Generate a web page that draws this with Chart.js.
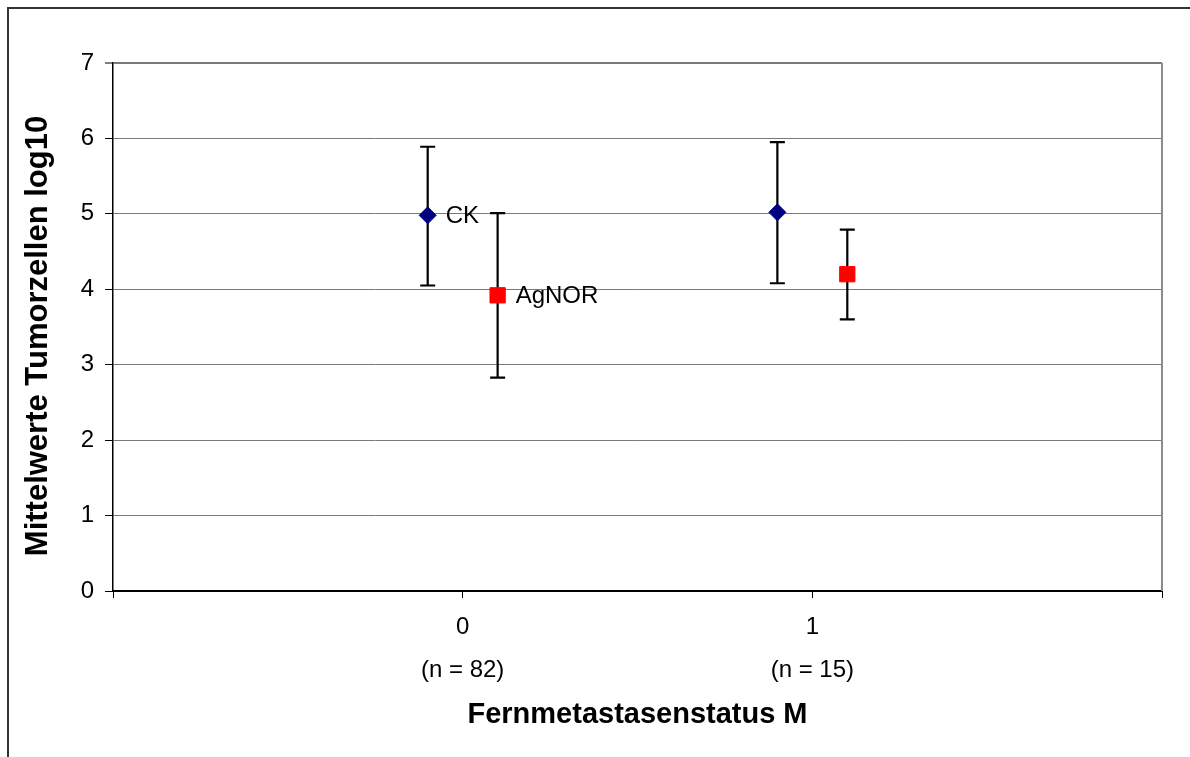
<!DOCTYPE html>
<html>
<head>
<meta charset="utf-8">
<script src="https://cdn.jsdelivr.net/npm/chart.js@4"></script>
<style>
  html, body { margin: 0; padding: 0; background: #fff; overflow: hidden; }
  canvas { display: block; }
</style>
</head>
<body>
<canvas id="chart" width="1190" height="757"></canvas>
<script>
// ---------- data ---------- //
const groupLabels = ["0", "1"];
const groupCounts = ["(n = 82)", "(n = 15)"];
const groupPos = [0, 1];

// CK series (diamonds, slightly left of each group)
const ckX = [-0.1, 0.9];
const ckMean = [4.98, 5.02];
const ckLow = [4.05, 4.08];
const ckHigh = [5.89, 5.95];

// AgNOR series (squares, slightly right of each group)
const agX = [0.1, 1.1];
const agMean = [3.92, 4.20];
const agLow = [2.83, 3.60];
const agHigh = [5.01, 4.79];

const yTicks = [0, 1, 2, 3, 4, 5, 6, 7];
const yTitle = "Mittelwerte Tumorzellen log10";
const xTitle = "Fernmetastasenstatus M";

const FONT = "'Liberation Sans', Arial, sans-serif";

// ---------- plugins ---------- //
// outer frame (only top and left edges are visible in the picture)
const framePlugin = {
  id: "frame",
  beforeDraw(chart) {
    const ctx = chart.ctx;
    ctx.save();
    ctx.fillStyle = "#fff";
    ctx.fillRect(0, 0, chart.width, chart.height);
    ctx.strokeStyle = "#333";
    ctx.lineWidth = 2;
    ctx.beginPath();
    ctx.moveTo(8, chart.height);
    ctx.lineTo(8, 8);
    ctx.lineTo(chart.width, 8);
    ctx.stroke();
    ctx.restore();
  },
  afterDraw(chart) {
    const { ctx, chartArea } = chart;
    ctx.save();
    // grey border on the right of the plot area
    ctx.strokeStyle = "#8c8c8c";
    ctx.lineWidth = 2;
    ctx.beginPath();
    ctx.moveTo(chartArea.right, chartArea.top);
    ctx.lineTo(chartArea.right, chartArea.bottom);
    ctx.stroke();

    // y axis title, Excel centres it a bit lower than the plot area
    ctx.translate(38, 336);
    ctx.rotate(-Math.PI / 2);
    ctx.fillStyle = "#000";
    ctx.font = "bold 31px " + FONT;
    ctx.textAlign = "center";
    ctx.textBaseline = "middle";
    ctx.fillText(yTitle, 0, 0);
    ctx.restore();
  }
};

// error bars from the low / high arrays
const errorBarPlugin = {
  id: "errorBars",
  beforeDatasetsDraw(chart) {
    const { ctx, scales } = chart;
    const sets = [
      { xs: ckX, lo: ckLow, hi: ckHigh },
      { xs: agX, lo: agLow, hi: agHigh }
    ];
    ctx.save();
    ctx.strokeStyle = "#000";
    ctx.lineWidth = 2.2;
    sets.forEach(s => {
      s.xs.forEach((xv, i) => {
        const px = scales.x.getPixelForValue(xv);
        const pLo = scales.y.getPixelForValue(s.lo[i]);
        const pHi = scales.y.getPixelForValue(s.hi[i]);
        ctx.beginPath();
        ctx.moveTo(px, pLo);
        ctx.lineTo(px, pHi);
        ctx.moveTo(px - 7.5, pLo);
        ctx.lineTo(px + 7.5, pLo);
        ctx.moveTo(px - 7.5, pHi);
        ctx.lineTo(px + 7.5, pHi);
        ctx.stroke();
      });
    });
    ctx.restore();
  },
  afterDatasetsDraw(chart) {
    // series name next to the first point of each series
    const ctx = chart.ctx;
    ctx.save();
    ctx.fillStyle = "#000";
    ctx.font = "24px " + FONT;
    ctx.textAlign = "left";
    ctx.textBaseline = "middle";
    chart.data.datasets.forEach((ds, di) => {
      const pt = chart.getDatasetMeta(di).data[0];
      ctx.fillText(ds.label, pt.x + 18, pt.y + 1);
    });
    ctx.restore();
  }
};

// ---------- chart ---------- //
const ctx = document.getElementById("chart").getContext("2d");

new Chart(ctx, {
  type: "scatter",
  data: {
    datasets: [
      {
        label: "CK",
        data: ckX.map((x, i) => ({ x: x, y: ckMean[i] })),
        pointStyle: "rectRot",
        pointRadius: 8.5,
        backgroundColor: "#000080",
        borderColor: "#000080",
        borderWidth: 1
      },
      {
        label: "AgNOR",
        data: agX.map((x, i) => ({ x: x, y: agMean[i] })),
        pointStyle: "rect",
        pointRadius: 10.8,
        backgroundColor: "#ff0000",
        borderColor: "#ff0000",
        borderWidth: 1
      }
    ]
  },
  options: {
    responsive: false,
    animation: false,
    devicePixelRatio: 1,
    layout: { padding: { left: 0, top: 63, right: 28, bottom: 0 } },
    plugins: {
      legend: { display: false },
      tooltip: { enabled: false }
    },
    scales: {
      x: {
        type: "linear",
        min: -1,
        max: 2,
        afterFit: scale => { scale.height = 166; },
        afterBuildTicks: scale => {
          scale.ticks = [-1, 0, 1, 2].map(v => ({ value: v }));
        },
        border: { display: true, color: "#000", width: 2 },
        grid: {
          drawOnChartArea: false,
          drawTicks: true,
          tickLength: 7,
          tickColor: "#000",
          tickWidth: 1
        },
        ticks: {
          autoSkip: false,
          maxRotation: 0,
          padding: 8,
          color: "#000",
          font: { family: FONT, size: 24, lineHeight: 1.8 },
          callback: value => {
            const i = groupPos.indexOf(value);
            return i >= 0 ? [groupLabels[i], groupCounts[i]] : "";
          }
        },
        title: {
          display: true,
          text: xTitle,
          color: "#000",
          font: { family: FONT, size: 29, weight: "bold", lineHeight: 1.2 },
          padding: { top: 0, bottom: 25 }
        }
      },
      y: {
        min: 0,
        max: 7,
        afterFit: scale => { scale.width = 113; },
        afterBuildTicks: scale => {
          scale.ticks = yTicks.map(v => ({ value: v }));
        },
        border: { display: true, color: "#000", width: 1.5 },
        grid: {
          color: "#7a7a7a",
          lineWidth: c => (c.tick && c.tick.value === 7 ? 2 : 1),
          drawTicks: true,
          tickLength: 8,
          tickColor: "#000",
          tickWidth: 1
        },
        ticks: {
          padding: 11,
          color: "#000",
          font: { family: FONT, size: 24 }
        },
        title: { display: false }
      }
    }
  },
  plugins: [framePlugin, errorBarPlugin]
});
</script>
</body>
</html>
